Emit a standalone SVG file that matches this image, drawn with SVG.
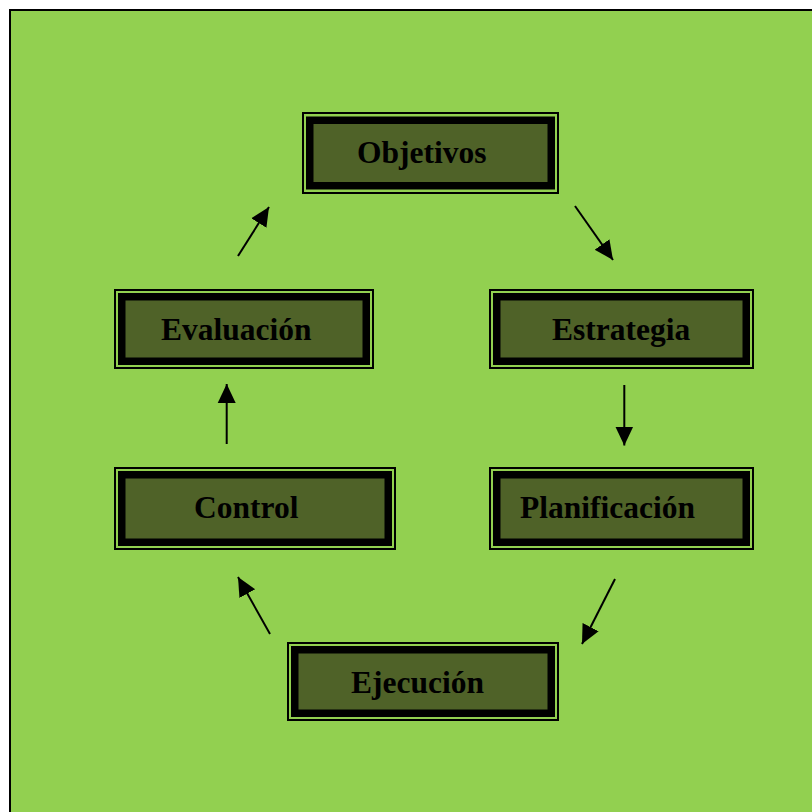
<svg xmlns="http://www.w3.org/2000/svg" width="812" height="812" viewBox="0 0 812 812">
<style>
.thin{fill:none;stroke:#000;stroke-width:2}
.thick{fill:#4F6228;stroke:#000;stroke-width:7.5}
.lbl{font-family:"Liberation Serif","Times New Roman",serif;font-weight:bold;font-size:31.5px;fill:#000}
.arr{stroke:#000;stroke-width:2;fill:none;marker-end:url(#ah)}
</style>
<defs>
<marker id="ah" markerUnits="userSpaceOnUse" markerWidth="20" markerHeight="20" viewBox="0 0 20 18" refX="19" refY="9" orient="auto">
<path d="M0,0 L19,9 L0,18 Z" fill="#000"/>
</marker>
</defs>
<rect x="0" y="0" width="812" height="812" fill="#fff"/>
<rect x="10" y="10" width="812" height="812" fill="#92D050" stroke="#000" stroke-width="2"/>
<g id="objetivos">
<rect class="thin" x="303" y="113" width="255" height="80"/>
<rect class="thick" x="309.75" y="120.25" width="241.5" height="65.5"/>
<text class="lbl" x="357" y="163">Objetivos</text>
</g>
<g id="estrategia">
<rect class="thin" x="490" y="290" width="263" height="78"/>
<rect class="thick" x="496.75" y="296.75" width="249.5" height="64.5"/>
<text class="lbl" x="552" y="340">Estrategia</text>
</g>
<g id="planificacion">
<rect class="thin" x="490" y="468" width="263" height="81"/>
<rect class="thick" x="496.75" y="474.75" width="249.5" height="67.5"/>
<text class="lbl" x="520" y="518">Planificación</text>
</g>
<g id="ejecucion">
<rect class="thin" x="288" y="643" width="270" height="77"/>
<rect class="thick" x="294.75" y="649.75" width="256.5" height="63.5"/>
<text class="lbl" x="351" y="693">Ejecución</text>
</g>
<g id="control">
<rect class="thin" x="115" y="468" width="280" height="81"/>
<rect class="thick" x="121.75" y="474.75" width="266.5" height="67.5"/>
<text class="lbl" x="194" y="518">Control</text>
</g>
<g id="evaluacion">
<rect class="thin" x="115" y="290" width="258" height="78"/>
<rect class="thick" x="121.75" y="296.75" width="244.5" height="64.5"/>
<text class="lbl" x="161" y="340">Evaluación</text>
</g>
<g id="connectors">
<line class="arr" x1="575" y1="206" x2="613" y2="260"/>
<line class="arr" x1="624.3" y1="385" x2="624.3" y2="445.5"/>
<line class="arr" x1="615" y1="579" x2="582" y2="644"/>
<line class="arr" x1="270" y1="634" x2="238" y2="577"/>
<line class="arr" x1="226.7" y1="444" x2="226.7" y2="384"/>
<line class="arr" x1="238" y1="256" x2="269" y2="207"/>
</g>
</svg>
